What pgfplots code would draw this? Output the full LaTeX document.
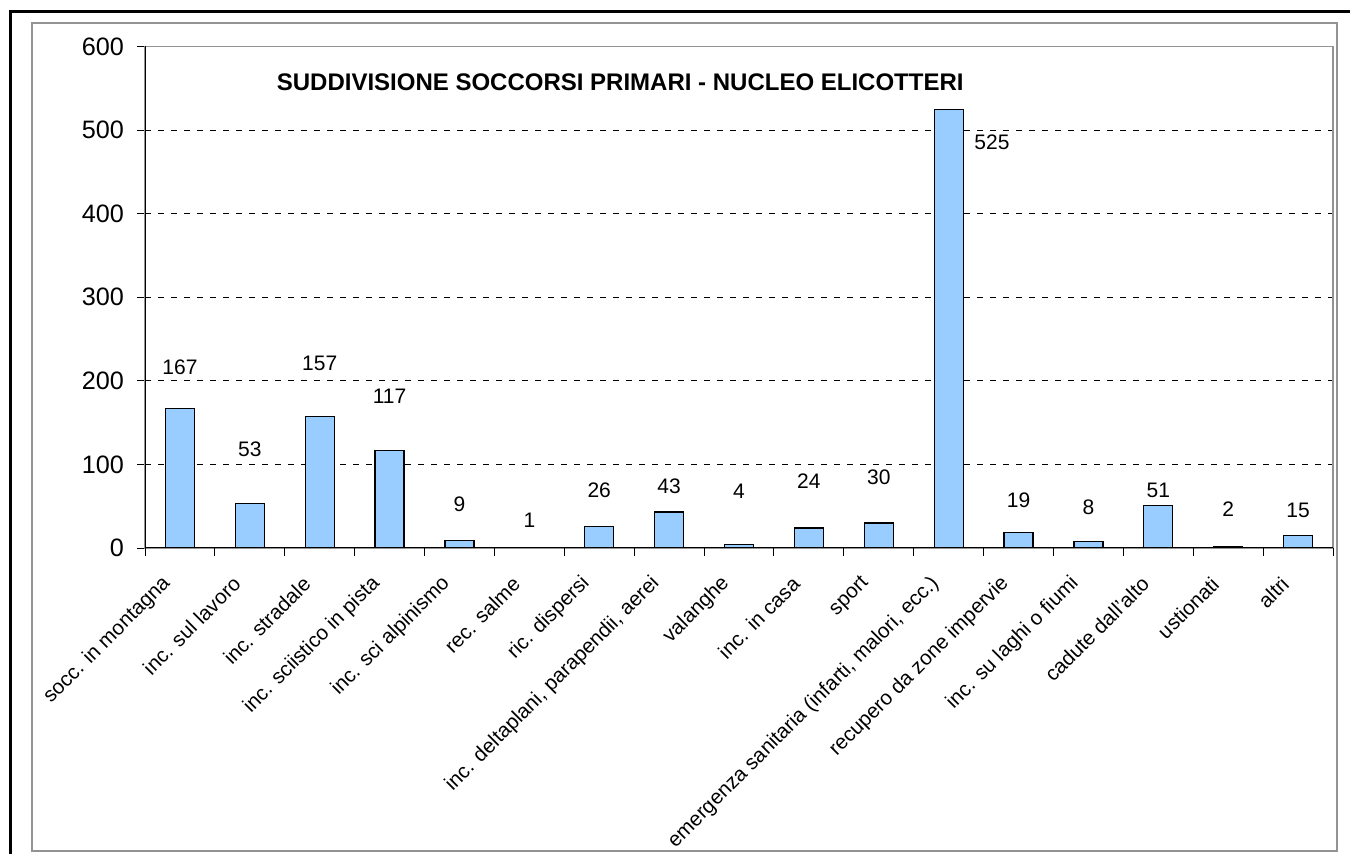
\documentclass[border=0pt]{standalone}
\usepackage{fontspec}
\setmainfont{Liberation Sans}
\usepackage{pgfplots}
\pgfplotsset{compat=1.18}
\definecolor{barblue}{HTML}{99CCFF}
\begin{document}
\begin{tikzpicture}
\useasboundingbox (0,0) rectangle (675bp,427bp);
\fill[white] (0,0) rectangle (675bp,427bp);
\draw[gray!85, line width=0.75bp] (16bp,1.5bp) rectangle (668.5bp,415.5bp);
\draw[black, line width=1.5bp] (5bp,0) -- (5bp,421bp) -- (675bp,421bp);
\begin{axis}[
  at={(72.5bp,153bp)}, anchor=south west,
  scale only axis, width=594bp, height=250.8bp,
  xmin=-0.5, xmax=16.5, ymin=0, ymax=600,
  ytick={0,100,...,600},
  yticklabel={\fontsize{12.6bp}{14bp}\selectfont\pgfmathprintnumber{\tick}},
  yticklabel style={xshift=-3bp},
  xtick={0,...,16},
  xticklabels={socc. in montagna, inc. sul lavoro, inc. stradale,
    inc. sciistico in pista, inc. sci alpinismo, rec. salme, ric. dispersi,
    {inc. deltaplani, parapendii, aerei}, valanghe, inc. in casa, sport,
    {emergenza sanitaria (infarti, malori, ecc.)}, recupero da zone impervie,
    inc. su laghi o fiumi, cadute dall'alto, ustionati, altri},
  xtick style={draw=none},
  extra x ticks={-0.5,0.5,...,16.5},
  extra x tick labels={},
  extra x tick style={xtick style={draw=black, line width=0.5bp}},
  tick align=outside, xtick pos=bottom, ytick pos=left,
  major tick length=4bp,
  ytick style={black, line width=0.5bp},
  axis line style={draw=gray!85, line width=0.75bp},
  ymajorgrids,
  grid style={black, dash pattern=on 3bp off 3.5bp, line width=0.5bp},
  /pgf/number format/assume math mode=true,
  xticklabel style={font=\fontsize{10.3bp}{12bp}\selectfont,
    xshift=-4bp, yshift=-9.8bp, rotate=45, anchor=east},
]
\addplot[ybar, bar width=14.5bp, fill=barblue, draw=black, line width=0.6bp]
  coordinates {(0,167) (1,53) (2,157) (3,117) (4,9) (5,1) (6,26) (7,43)
    (8,4) (9,24) (10,30) (11,525) (12,19) (13,8) (14,51) (15,2) (16,15)};
\addplot[draw=none, mark=none, nodes near coords, point meta=explicit symbolic,
  every node near coord/.append style={anchor=center, inner sep=0pt,
    font=\fontsize{10.5bp}{12bp}\selectfont}]
  coordinates {(0,216.5)[167] (1,118.4)[53] (2,221.3)[157] (3,181.8)[117]
    (4,52.6)[9] (5,33.5)[1] (6,68.5)[26] (7,73.3)[43] (8,67.3)[4]
    (9,80.1)[24] (10,84.6)[30] (11.62,485.6)[525] (12,57.4)[19] (13,49)[8]
    (14,69.4)[51] (15,46.7)[2] (16,45.5)[15]};
\draw[black, line width=0.75bp] (rel axis cs:0,1) -- (rel axis cs:0,0) -- (rel axis cs:1,0);
\node[font=\bfseries\fontsize{12bp}{14bp}\selectfont] at (rel axis cs:0.4,0.929)
  {SUDDIVISIONE SOCCORSI PRIMARI - NUCLEO ELICOTTERI};
\end{axis}
\end{tikzpicture}
\end{document}
